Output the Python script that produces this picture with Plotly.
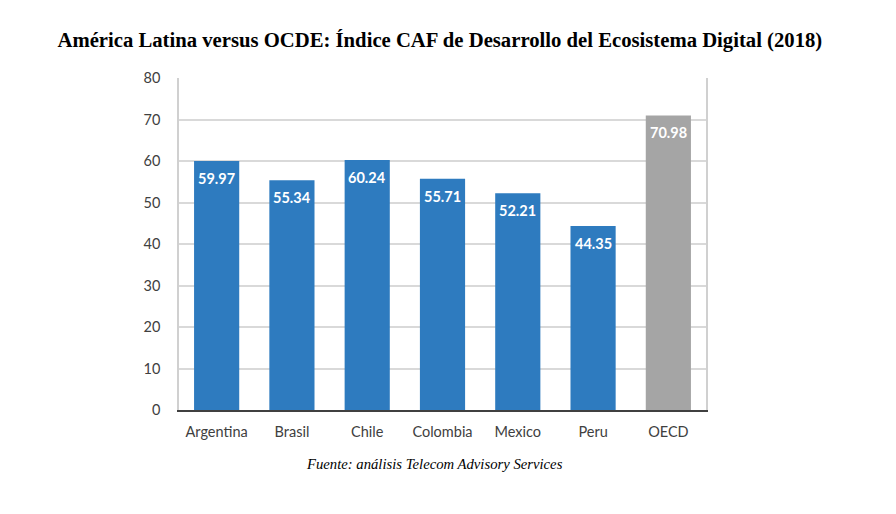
import plotly.graph_objects as go

categories = ["Argentina", "Brasil", "Chile", "Colombia", "Mexico", "Peru", "OECD"]
values = [59.97, 55.34, 60.24, 55.71, 52.21, 44.35, 70.98]
bar_colors = ["#2e7bbf"] * 6 + ["#a5a5a5"]
y_ticks = [0, 10, 20, 30, 40, 50, 60, 70, 80]

title_text = "América Latina versus OCDE: Índice CAF de Desarrollo del Ecosistema Digital (2018)"
source_text = "Fuente: análisis Telecom Advisory Services"

fig = go.Figure()
fig.add_trace(go.Bar(
    x=categories, y=values,
    marker=dict(color=bar_colors, line=dict(width=0)),
    width=0.6,
    hoverinfo="x+y",
))
for c, v in zip(categories, values):
    fig.add_annotation(x=c, y=v, text=f"<b>{v:.2f}</b>", showarrow=False,
                       yanchor="top", yshift=-7,
                       font=dict(family="Lato", size=14.5, color="white"))

fig.update_layout(
    width=896, height=514,
    paper_bgcolor="white", plot_bgcolor="white",
    margin=dict(l=171, r=198, t=70, b=112),
    showlegend=False,
    title=dict(text="<b>" + title_text + "</b>", x=0.482, xanchor="center", y=0.938, yanchor="middle",
               font=dict(family="Liberation Serif", size=20.7, color="black")),
    xaxis=dict(showgrid=False, showline=True, linecolor="#404040", linewidth=2,
               ticks="", ticklabelstandoff=8,
               tickfont=dict(family="Lato", size=14.5, color="#404040")),
    yaxis=dict(range=[0, 80], tickvals=y_ticks, showgrid=True, gridcolor="#d9d9d9", gridwidth=1.5,
               showline=True, linecolor="#d0d0d0", linewidth=1.5, mirror=True,
               ticks="", ticklabelstandoff=14, zeroline=False,
               tickfont=dict(family="Lato", size=14.5, color="#404040")),
)
fig.add_annotation(text="<i>" + source_text + "</i>", xref="paper", yref="paper",
                   x=0.485, y=-0.162, xanchor="center", yanchor="middle", showarrow=False,
                   font=dict(family="Liberation Serif", size=14.7, color="black"))
fig.write_html("out.html")
